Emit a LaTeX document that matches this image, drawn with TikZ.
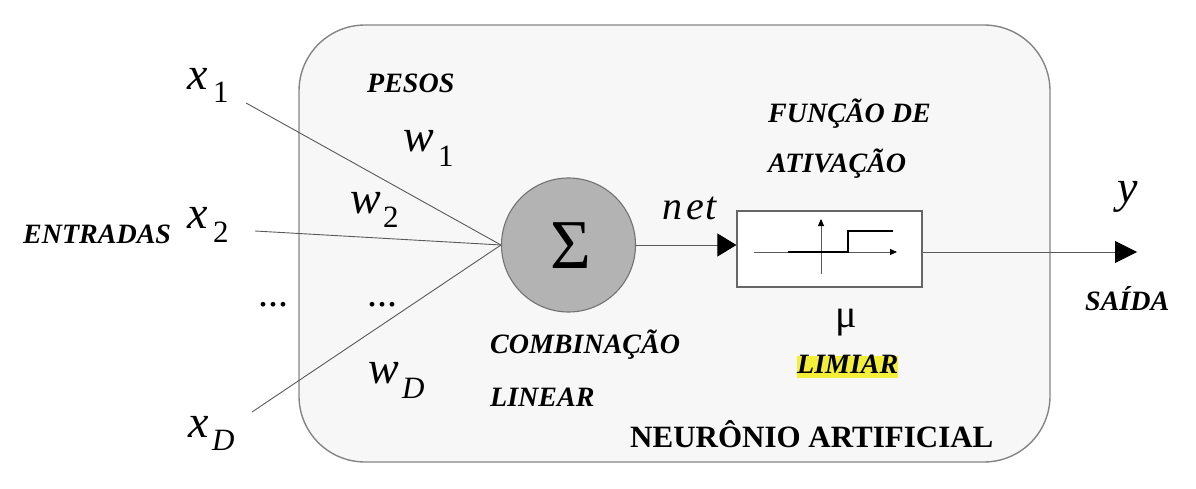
\documentclass[tikz,border=0pt]{standalone}
\usepackage{fontspec}
\setmainfont{Liberation Serif}[ItalicFont={Liberation Serif Italic}, BoldFont={Liberation Serif Bold}, BoldItalicFont={Liberation Serif Bold Italic}]
\usetikzlibrary{arrows.meta}
\definecolor{panel}{HTML}{F7F7F7}
\definecolor{panelline}{HTML}{858585}
\definecolor{sumfill}{HTML}{B3B3B3}
\definecolor{hl}{HTML}{F2EE3A}
\definecolor{wirecol}{HTML}{5A5A5A}
\tikzset{
  lbl/.style={inner sep=0pt, anchor=base west, font=\fontsize{28}{28}\selectfont\bfseries\itshape},
  var/.style={inner sep=0pt, anchor=base west, font=\fontsize{46}{46}\selectfont\itshape},
  subs/.style={inner sep=0pt, anchor=base west, font=\fontsize{31}{31}\selectfont},
  wire/.style={draw=wirecol, line width=0.9pt},
  axis/.style={draw=wirecol, line width=0.9pt, -{Triangle[length=7pt,width=6pt,color=black]}},
}
\begin{document}
\begin{tikzpicture}[x=1pt,y=-1pt]
\useasboundingbox (0,0) rectangle (1196,489);
% neuron panel
\draw[fill=panel, draw=panelline, line width=1.4pt, rounded corners=66pt] (299,25) rectangle (1050,462);
% summation
\node[circle, minimum size=134pt, inner sep=0pt, fill=sumfill, draw=black!55, line width=1.1pt] (sum) at (568.5,245) {};
\node[inner sep=0pt, font=\fontsize{70}{70}\selectfont] (sigma) at (571,246) {Σ};
% activation box
\node[draw=black!60, fill=white, line width=1.2pt, minimum width=185pt, minimum height=76pt, inner sep=0pt] (act) at (829.5,249) {};
\draw[axis] (754,252) -- (897,252);
\draw[axis] (821,274) -- (821,219);
\draw[line width=2.2pt, black] (788,252) -- (848,252) -- (848,231) -- (893,231);
% inputs
\coordinate (in1) at (246,103);
\coordinate (in2) at (255,231);
\coordinate (inD) at (252,412);
\draw[wire] (in1) -- (sum.west);
\draw[wire] (in2) -- (sum.west);
\draw[wire] (inD) -- (sum.west);
% net arrow
\draw[wire, -{Triangle[length=19pt,width=23pt,color=black]}] (sum.east) -- (act.west |- sum.east);
% output
\coordinate (yout) at (1137,252);
\draw[wire, -{Triangle[length=22pt,width=22pt,color=black]}] (act.east |- yout) -- (yout);
% variables
\node[var] (x1) at (187,90) {x};
\node[subs] (x1s) at (213,103) {1};
\node[var] (x2) at (187,228) {x};
\node[subs] (x2s) at (213,242) {2};
\node[var] (xD) at (188,437) {x};
\node[subs] (xDs) at (212,450) {\itshape D};
\node[var] (w1) at (403,152) {w};
\node[subs] (w1s) at (438,167) {1};
\node[var] (w2) at (350,213) {w};
\node[subs] (w2s) at (383,227) {2};
\node[var] (wD) at (368,383) {w};
\node[subs] (wDs) at (402,398) {\itshape D};
\node[var] (yv) at (1117,203) {y};
\node[inner sep=0pt, anchor=base west, font=\fontsize{40}{40}\selectfont\itshape] (net) at (662,219) {n\kern4pt e\kern2pt t};
\node[inner sep=0pt, anchor=base west, font=\fontsize{40}{40}\selectfont] (mu) at (835,327) {μ};
\node[inner sep=0pt, anchor=base west, font=\fontsize{40}{40}\selectfont] (dots1) at (258,306) {...};
\node[inner sep=0pt, anchor=base west, font=\fontsize{40}{40}\selectfont] (dots2) at (367,306) {...};
% labels
\node[lbl] (pesos) at (367,93) {PESOS};
\node[lbl] (entradas) at (23,243) {ENTRADAS};
\node[lbl] (funcao) at (768,123) {FUNÇÃO DE};
\node[lbl] (ativacao) at (768,173) {ATIVAÇÃO};
\node[lbl] (comb) at (490,353) {COMBINAÇÃO};
\node[lbl] (linear) at (490,406) {LINEAR};
\node[lbl, fill=hl, text height=17pt, text depth=5pt] (limiar) at (797,373) {LIMIAR};
\node[lbl] (saida) at (1085,310) {SAÍDA};
\node[inner sep=0pt, anchor=base west, font=\fontsize{31}{31}\selectfont\bfseries] (neuronio) at (630,447) {NEURÔNIO ARTIFICIAL};
\end{tikzpicture}
\end{document}
